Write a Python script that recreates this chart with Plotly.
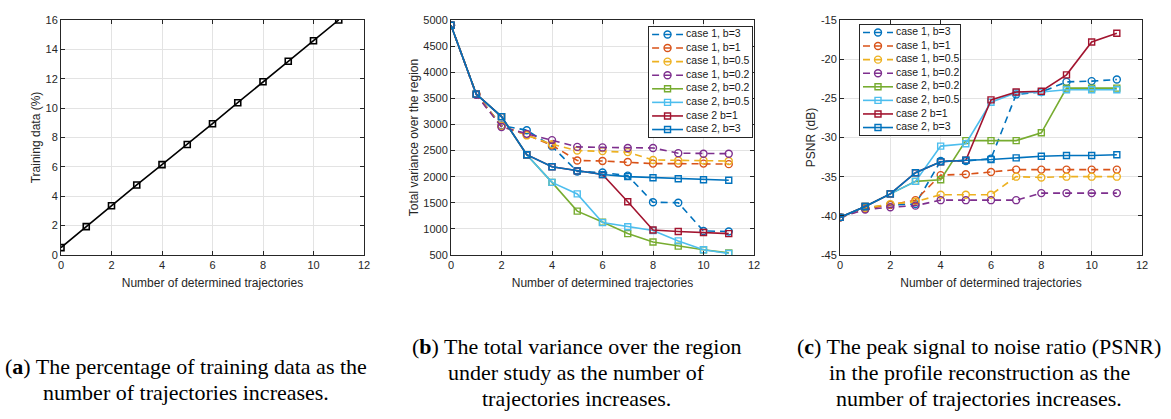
import plotly.graph_objects as go

# ---------------- data ----------------
TRAJ = [0, 1, 2, 3, 4, 5, 6, 7, 8, 9, 10, 11]
TRAIN_PCT = [0.5, 1.93, 3.35, 4.77, 6.15, 7.52, 8.94, 10.37, 11.8, 13.19, 14.59, 16.0]

SERIES_NAMES = ["case 1, b=3", "case 1, b=1", "case 1, b=0.5", "case 1, b=0.2",
                "case 2, b=0.2", "case 2, b=0.5", "case 2 b=1", "case 2, b=3"]

VAR_C1_B3 = [4900, 3580, 2980, 2890, 2580, 2100, 2080, 2020, 1510, 1500, 960, 950]
VAR_C1_B1 = [4900, 3580, 2970, 2800, 2600, 2310, 2300, 2280, 2250, 2250, 2250, 2240]
VAR_C1_B05 = [4900, 3580, 2970, 2790, 2620, 2500, 2490, 2470, 2320, 2310, 2310, 2300]
VAR_C1_B02 = [4900, 3570, 2950, 2820, 2700, 2570, 2560, 2550, 2550, 2450, 2440, 2440]
VAR_C2_B02 = [4900, 3580, 3150, 2420, 1890, 1340, 1130, 910, 750, 670, 600, 540]
VAR_C2_B05 = [4900, 3580, 3150, 2420, 1890, 1670, 1120, 1040, 970, 770, 600, 530]
VAR_C2_B1 = [4900, 3580, 3150, 2420, 2190, 2110, 2040, 1520, 980, 950, 930, 910]
VAR_C2_B3 = [4900, 3580, 3150, 2420, 2190, 2110, 2040, 2000, 1980, 1960, 1940, 1930]

PSNR_C1_B3 = [-40.2, -39.0, -38.6, -38.5, -33.0, -33.0, -32.7, -24.5, -24.2, -22.9, -22.8, -22.6]
PSNR_C1_B1 = [-40.2, -39.1, -38.6, -38.0, -34.8, -34.7, -34.4, -34.1, -34.1, -34.1, -34.1, -34.1]
PSNR_C1_B05 = [-40.2, -39.0, -38.5, -38.2, -37.3, -37.3, -37.3, -35.0, -35.1, -35.0, -35.0, -35.0]
PSNR_C1_B02 = [-40.2, -39.2, -38.9, -38.7, -38.0, -38.0, -38.0, -38.0, -37.1, -37.1, -37.1, -37.1]
PSNR_C2_B02 = [-40.2, -38.8, -37.2, -35.6, -35.4, -30.4, -30.4, -30.4, -29.4, -23.7, -23.7, -23.7]
PSNR_C2_B05 = [-40.2, -38.8, -37.2, -35.6, -31.1, -30.8, -25.5, -24.3, -24.2, -23.9, -23.9, -23.9]
PSNR_C2_B1 = [-40.2, -38.8, -37.2, -34.5, -33.1, -32.9, -25.2, -24.2, -24.1, -22.0, -17.8, -16.7]
PSNR_C2_B3 = [-40.2, -38.8, -37.2, -34.5, -33.1, -32.9, -32.8, -32.6, -32.4, -32.3, -32.3, -32.2]

X_TICKS = [0, 2, 4, 6, 8, 10, 12]
A_TICKS = [0, 2, 4, 6, 8, 10, 12, 14, 16]
B_TICKS = [500, 1000, 1500, 2000, 2500, 3000, 3500, 4000, 4500, 5000]
C_TICKS = [-45, -40, -35, -30, -25, -20, -15]
C_TICKTEXT = ["-45", "-40", "-35", "-30", "-25", "-20", "-15"]

CAPTION_A = ["(<b>a</b>) The percentage of training data as the",
             "number of trajectories increases."]
CAPTION_B = ["(<b>b</b>) The total variance over the region",
             "under study as the number of",
             "trajectories increases."]
CAPTION_C = ["(<b>c</b>) The peak signal to noise ratio (PSNR)",
             "in the profile reconstruction as the",
             "number of trajectories increases."]

# ---------------- style ----------------
W, H = 1171, 419
COLORS = ["#0072BD", "#D95319", "#EDB120", "#7E2F8E",
          "#77AC30", "#4DBEEE", "#A2142F", "#0072BD"]
DASH = "7px,5px"
SANS = "Liberation Sans, Arial, sans-serif"
SERIF = "Liberation Serif, Times New Roman, serif"
AXC = "#262626"

VAR_SERIES = [VAR_C1_B3, VAR_C1_B1, VAR_C1_B05, VAR_C1_B02,
              VAR_C2_B02, VAR_C2_B05, VAR_C2_B1, VAR_C2_B3]
PSNR_SERIES = [PSNR_C1_B3, PSNR_C1_B1, PSNR_C1_B05, PSNR_C1_B02,
               PSNR_C2_B02, PSNR_C2_B05, PSNR_C2_B1, PSNR_C2_B3]


def px_x(a, b):
    return [a / W, b / W]


def px_y(top, bottom):
    return [1 - bottom / H, 1 - top / H]


def style(i):
    case1 = i < 4
    line = dict(color=COLORS[i], width=1.6, dash=DASH if case1 else "solid")
    marker = dict(symbol="circle-open" if case1 else "square-open",
                  size=7 if case1 else 6, color=COLORS[i],
                  line=dict(width=1.4, color=COLORS[i]))
    return line, marker


fig = go.Figure()

# panel a
fig.add_trace(go.Scatter(x=TRAJ, y=TRAIN_PCT, mode="lines+markers",
                         line=dict(color="black", width=1.6),
                         marker=dict(symbol="square-open", size=6, color="black",
                                     line=dict(width=1.6, color="black")),
                         xaxis="x", yaxis="y", showlegend=False))

# panel b and c
for i in range(8):
    ln, mk = style(i)
    fig.add_trace(go.Scatter(x=TRAJ, y=VAR_SERIES[i], mode="lines+markers",
                             line=ln, marker=mk, name=SERIES_NAMES[i],
                             xaxis="x2", yaxis="y2", showlegend=False))
for i in range(8):
    ln, mk = style(i)
    fig.add_trace(go.Scatter(x=TRAJ, y=PSNR_SERIES[i], mode="lines+markers",
                             line=ln, marker=mk, name=SERIES_NAMES[i],
                             xaxis="x3", yaxis="y3", showlegend=False))

# custom legends (insets) drawn on their own little axes
for xa, ya in (("x4", "y4"), ("x5", "y5")):
    for i in range(8):
        ln, mk = style(i)
        fig.add_trace(go.Scatter(x=[0.03, 0.33], y=[i, i], mode="lines", line=ln,
                                 xaxis=xa, yaxis=ya, showlegend=False, hoverinfo="skip"))
        fig.add_trace(go.Scatter(x=[0.18], y=[i], mode="markers", marker=mk,
                                 xaxis=xa, yaxis=ya, showlegend=False, hoverinfo="skip"))
    fig.add_trace(go.Scatter(x=[0.36] * 8, y=list(range(8)), mode="text",
                             text=SERIES_NAMES, textposition="middle right",
                             textfont=dict(family=SANS, size=10.5, color="#1a1a1a"),
                             xaxis=xa, yaxis=ya, showlegend=False, hoverinfo="skip",
                             cliponaxis=False))

base = dict(showgrid=True, gridcolor="#e3e3e3", gridwidth=1, showline=True,
            linecolor=AXC, linewidth=1, mirror="ticks", ticks="inside", ticklen=4,
            tickcolor=AXC, zeroline=False, automargin=False,
            tickfont=dict(family=SANS, size=11, color=AXC))
xtitle = dict(text="Number of determined trajectories",
              font=dict(family=SANS, size=12, color=AXC), standoff=8)

YD = px_y(20, 255)
XDOM = [px_x(61, 364), px_x(451, 754), px_x(840, 1142)]


def ytitle(t):
    return dict(text=t, font=dict(family=SANS, size=12, color=AXC), standoff=2)


layout = dict(
    width=W, height=H, margin=dict(l=0, r=0, t=0, b=0, autoexpand=False),
    paper_bgcolor="white", plot_bgcolor="white", showlegend=False,
    xaxis=dict(base, domain=XDOM[0], range=[0, 12], tickvals=X_TICKS, anchor="y", title=xtitle),
    yaxis=dict(base, domain=YD, range=[0, 16], tickvals=A_TICKS, anchor="x",
               title=ytitle("Training data (%)")),
    xaxis2=dict(base, domain=XDOM[1], range=[0, 12], tickvals=X_TICKS, anchor="y2", title=xtitle),
    yaxis2=dict(base, domain=YD, range=[500, 5000], tickvals=B_TICKS, anchor="x2",
                title=ytitle("Total variance over the region")),
    xaxis3=dict(base, domain=XDOM[2], range=[0, 12], tickvals=X_TICKS, anchor="y3", title=xtitle),
    yaxis3=dict(base, domain=YD, range=[-45, -15], tickvals=C_TICKS, ticktext=C_TICKTEXT, anchor="x3",
                title=ytitle("PSNR (dB)")),
)
inset = dict(showgrid=False, showline=True, linecolor=AXC, linewidth=1, mirror=True,
             ticks="", showticklabels=False, zeroline=False, fixedrange=True, automargin=False)
layout["xaxis4"] = dict(inset, domain=px_x(649, 752), range=[0, 1], anchor="y4")
layout["yaxis4"] = dict(inset, domain=px_y(27, 137), range=[7.55, -0.55], anchor="x4")
layout["xaxis5"] = dict(inset, domain=px_x(860, 960), range=[0, 1], anchor="y5")
layout["yaxis5"] = dict(inset, domain=px_y(25, 135), range=[7.55, -0.55], anchor="x5")

anns = []
for lines, cx, ys in ((CAPTION_A, 186, [366, 392]),
                      (CAPTION_B, 576, [346, 372, 398]),
                      (CAPTION_C, 979, [346, 372, 398])):
    for t, yy in zip(lines, ys):
        anns.append(dict(text=t, x=cx / W, y=1 - yy / H, xref="paper", yref="paper",
                         xanchor="center", yanchor="middle", showarrow=False,
                         font=dict(family=SERIF, size=22, color="black")))
layout["annotations"] = anns

fig.update_layout(**layout)
fig.write_html("out.html", config={"displayModeBar": False},
               post_script="document.body.style.margin='0';document.body.style.overflow='hidden';")
